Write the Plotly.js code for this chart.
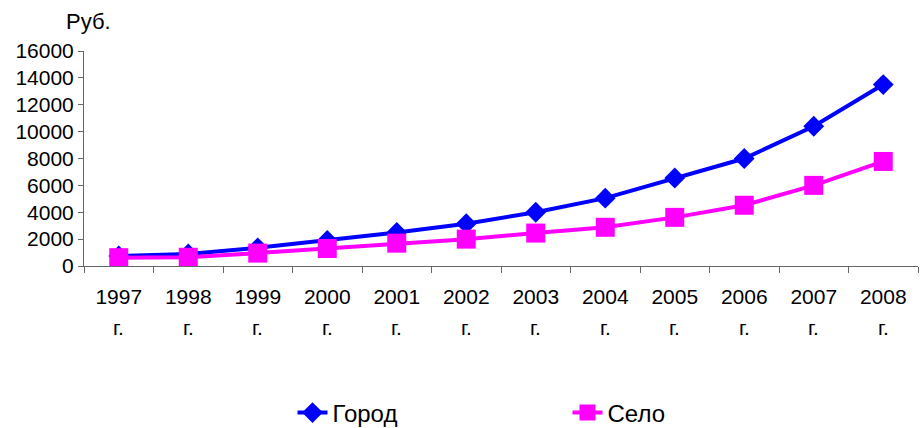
<!DOCTYPE html>
<html>
<head>
<meta charset="utf-8">
<script src="https://cdn.plot.ly/plotly-3.0.1.min.js"></script>
<style>
  html, body { margin: 0; padding: 0; background: #fff; }
  #chart { width: 920px; height: 428px; }
</style>
</head>
<body>
<div id="chart"></div>
<script>
var years = ['1997', '1998', '1999', '2000', '2001', '2002', '2003', '2004', '2005', '2006', '2007', '2008'];
var gorod = [750, 900, 1350, 1900, 2500, 3150, 4000, 5050, 6550, 8000, 10400, 13500];
var selo = [620, 650, 960, 1300, 1700, 2000, 2450, 2880, 3620, 4520, 6000, 7780];

var font = 'Liberation Sans, Arial, sans-serif';

var trace1 = {
    x: years,
    y: gorod,
    name: 'Город',
    type: 'scatter',
    mode: 'lines+markers',
    line: {color: '#0000FF', width: 4},
    marker: {symbol: 'diamond', size: 16, color: '#0000FF'}
};

var trace2 = {
    x: years,
    y: selo,
    name: 'Село',
    type: 'scatter',
    mode: 'lines+markers',
    line: {color: '#FF00FF', width: 4},
    marker: {symbol: 'square', size: 19, color: '#FF00FF'}
};

// second line of every year label: "г." (x = category index)
var annotations = years.map(function (yr, i) {
    return {
        x: i, xref: 'x', y: -0.288, yref: 'paper', yanchor: 'middle',
        text: 'г.', showarrow: false,
        font: {family: font, size: 21, color: '#000'}
    };
});
annotations.push({
    x: -0.024, xref: 'paper', y: 1.135, yref: 'paper', yanchor: 'middle',
    text: 'Руб.', showarrow: false,
    font: {family: font, size: 22, color: '#000'}
});

var layout = {
    width: 920,
    height: 428,
    margin: {l: 84, r: 2, t: 51, b: 162},
    paper_bgcolor: '#fff',
    plot_bgcolor: '#fff',
    font: {family: font, color: '#000'},
    showlegend: true,
    legend: {
        orientation: 'h',
        x: 0.25, xanchor: 'left',
        yref: 'container',
        y: 0.035, yanchor: 'middle',
        entrywidth: 230,
        font: {family: font, size: 24, color: '#000'}
    },
    xaxis: {
        type: 'category',
        categoryorder: 'array',
        categoryarray: years,
        range: [-0.5, years.length - 0.5],
        showgrid: false,
        showline: true,
        linecolor: '#666',
        linewidth: 1,
        ticks: 'outside',
        tickson: 'boundaries',
        ticklen: 6,
        tickcolor: '#666',
        tickangle: 0,
        ticklabelstandoff: 12,
        tickfont: {family: font, size: 21, color: '#000'},
        zeroline: false,
        fixedrange: true
    },
    yaxis: {
        range: [0, 16000],
        dtick: 2000,
        tickformat: 'd',
        showgrid: false,
        showline: true,
        linecolor: '#666',
        linewidth: 1,
        ticks: 'outside',
        ticklen: 5,
        tickcolor: '#666',
        tickfont: {family: font, size: 21, color: '#000'},
        zeroline: false,
        fixedrange: true
    },
    annotations: annotations
};

Plotly.newPlot('chart', [trace1, trace2], layout, {displayModeBar: false, responsive: false});
</script>
</body>
</html>
